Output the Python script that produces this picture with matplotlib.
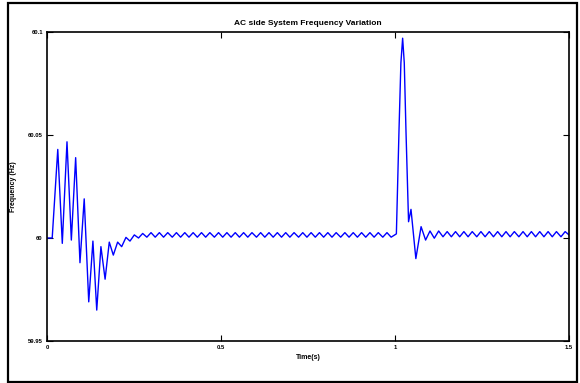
import numpy as np
import matplotlib
matplotlib.use("Agg")
import matplotlib.pyplot as plt
from matplotlib.patches import Rectangle

# --- data (time in s, frequency in Hz) ---
# start-up transient: extrema of the oscillation
onset_t = [0.0, 0.015, 0.031, 0.044, 0.0575, 0.070, 0.0824, 0.0948, 0.107, 0.120,
           0.132, 0.143, 0.155, 0.167, 0.179, 0.1906, 0.203, 0.2146, 0.227, 0.2385,
           0.251, 0.263, 0.275, 0.287]
onset_f = [60.0, 60.0, 60.043, 59.9974, 60.0467, 59.999, 60.039, 59.988, 60.019, 59.969,
           59.9985, 59.965, 59.9958, 59.980, 59.998, 59.9917, 59.998, 59.9958, 60.0003, 59.9985,
           60.0015, 60.0000, 60.0022, 60.0004]

# steady ripple before the disturbance
rip1_peak_t = [0.299, 0.323, 0.347, 0.372, 0.396, 0.420, 0.444, 0.468, 0.493, 0.517,
               0.541, 0.565, 0.589, 0.614, 0.638, 0.662, 0.686, 0.710, 0.735, 0.759,
               0.783, 0.807, 0.831, 0.856, 0.880, 0.904, 0.928, 0.952, 0.977]
rip1_trough_t = [0.311, 0.335, 0.360, 0.384, 0.408, 0.432, 0.456, 0.481, 0.505, 0.529,
                 0.553, 0.577, 0.602, 0.626, 0.650, 0.674, 0.698, 0.723, 0.747, 0.771,
                 0.795, 0.819, 0.844, 0.868, 0.892, 0.916, 0.940, 0.965, 0.989]
rip1_peak_f = 60.0026
rip1_trough_f = 60.0004

# spike around t = 1 s and its decay
spike_t = [1.004, 1.0115, 1.017, 1.022, 1.0267, 1.0316, 1.039, 1.046, 1.060, 1.075,
           1.088, 1.1006, 1.113, 1.1255]
spike_f = [60.002, 60.052, 60.085, 60.097, 60.085, 60.052, 60.0079, 60.0139, 59.990, 60.0055,
           59.999, 60.0034, 59.9999, 60.0034]

# steady ripple after the disturbance
rip2_peak_t = [1.150, 1.174, 1.198, 1.222, 1.247, 1.271, 1.295, 1.319, 1.343, 1.368,
               1.392, 1.416, 1.440, 1.464, 1.489]
rip2_trough_t = [1.138, 1.162, 1.186, 1.210, 1.235, 1.259, 1.283, 1.307, 1.331, 1.356,
                 1.380, 1.404, 1.428, 1.452, 1.477]
rip2_peak_f = 60.0031
rip2_trough_f = 60.0006
end_t, end_f = 1.5, 60.0015

x_ticks = [0, 0.5, 1, 1.5]
x_tick_labels = ["0", "0.5", "1", "1.5"]
y_ticks = [59.95, 60, 60.05, 60.1]
y_tick_labels = ["59.95", "60", "60.05", "60.1"]


def merge(peaks, troughs, pf, tf):
    pts = [(t, pf) for t in peaks] + [(t, tf) for t in troughs]
    pts.sort()
    return [p[0] for p in pts], [p[1] for p in pts]


r1_t, r1_f = merge(rip1_peak_t, rip1_trough_t, rip1_peak_f, rip1_trough_f)
r2_t, r2_f = merge(rip2_peak_t, rip2_trough_t, rip2_peak_f, rip2_trough_f)
t = np.array(onset_t + r1_t + spike_t + r2_t + [end_t])
f = np.array(onset_f + r1_f + spike_f + r2_f + [end_f])

plt.rcParams["font.family"] = ["Liberation Sans", "DejaVu Sans"]
plt.rcParams["font.weight"] = "bold"

fig = plt.figure(figsize=(5.8, 3.83), dpi=100)
ax = fig.add_axes([0.081, 0.1097, 0.9, 0.8067])
ax.plot(t, f, color="#0000ff", lw=1.0, solid_joinstyle="round")

ax.set_xlim(0, 1.5)
ax.set_ylim(59.95, 60.1)
ax.set_xticks(x_ticks)
ax.set_xticklabels(x_tick_labels)
ax.set_yticks(y_ticks)
ax.set_yticklabels(y_tick_labels)
ax.tick_params(direction="in", length=4, width=0.8, labelsize=4.2, pad=3,
               top=True, right=True)
for s in ax.spines.values():
    s.set_linewidth(1.2)

ax.set_title("AC side System Frequency Variation", fontsize=6, fontweight="bold", pad=5)
ax.set_xlabel("Time(s)", fontsize=5, fontweight="bold", labelpad=3)
ax.set_ylabel("Frequency (Hz)", fontsize=5, fontweight="bold", labelpad=8)

# black frame round the whole figure
fig.patches.append(Rectangle((8 / 580, 1.5 / 383), 569 / 580, 378.5 / 383,
                             transform=fig.transFigure, fill=False,
                             edgecolor="black", linewidth=1.6))

fig.savefig("out.png", dpi=100)
